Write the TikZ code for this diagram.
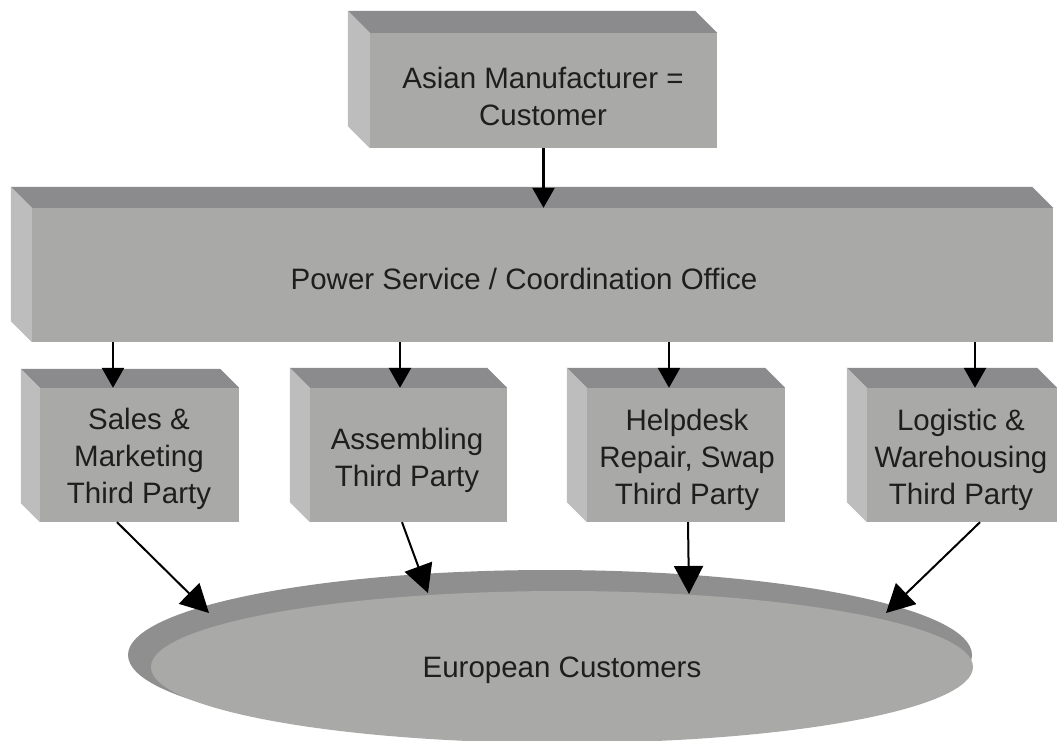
\documentclass[tikz,border=0pt]{standalone}
\usepackage{fontspec}
\setmainfont{Liberation Sans}
\usetikzlibrary{shapes.geometric,arrows.meta}
\definecolor{frontc}{HTML}{A9AAA8}
\definecolor{topc}{HTML}{8B8A8C}
\definecolor{leftc}{HTML}{BCBDBC}
\definecolor{rimc}{HTML}{8F8F8F}
\definecolor{txtc}{HTML}{1E1E1E}
\tikzset{
  face/.style={fill=frontc, draw=none, inner sep=0pt},
  lbl/.style={inner sep=0pt, align=center, text=txtc,
    font=\fontsize{29.5}{37}\selectfont},
  conn/.style={line width=2.6pt, -{Triangle[length=20pt,width=22pt]}},
  conn2/.style={line width=2pt, -{Triangle[length=28pt,width=29pt]}},
}
\begin{document}
\begin{tikzpicture}[x=1pt,y=-1pt]
\useasboundingbox (0,0) rectangle (1058,740);
% front faces
\node[face, minimum width=347pt, minimum height=115pt] (asian) at (543.5,90.5) {};
\node[face, minimum width=1021pt, minimum height=134pt] (office) at (542.5,275) {};
\node[face, minimum width=199pt, minimum height=134pt] (sales) at (139.5,455) {};
\node[face, minimum width=197pt, minimum height=134pt] (assem) at (408.5,455) {};
\node[face, minimum width=198pt, minimum height=134pt] (help) at (686,455) {};
\node[face, minimum width=190pt, minimum height=134pt] (logi) at (962,455) {};
% labels
\node[lbl] (asiantxt) at (543,96) {Asian Manufacturer =\\Customer};
\node[lbl] (officetxt) at (524,279) {Power Service / Coordination Office};
\node[lbl] (salestxt) at (139,459) {Sales \&\\Marketing\\Third Party};
\node[lbl] (assemtxt) at (407,460) {Assembling\\Third Party};
\node[lbl] (helptxt) at (687,460) {Helpdesk\\Repair, Swap\\Third Party};
\node[lbl] (logitxt) at (961,460) {Logistic \&\\Warehousing\\Third Party};
% 3D side faces
\foreach \n/\d in {asian/22, office/21, sales/19, assem/20, help/20, logi/20}{
  \fill[topc] (\n.north west) -- ++(-\d,-\d) -- ([shift={(-\d,-\d)}]\n.north east) -- (\n.north east) -- cycle;
  \fill[leftc] (\n.north west) -- ++(-\d,-\d) -- ([shift={(-\d,-\d)}]\n.south west) -- (\n.south west) -- cycle;
}
% ellipse
\node[ellipse, fill=rimc, minimum width=844pt, minimum height=170pt, inner sep=0pt] (rim) at (550,655) {};
\node[ellipse, fill=frontc, minimum width=822pt, minimum height=152pt, inner sep=0pt] (eu) at (562,667) {};
\node[lbl] (eutxt) at (562,670) {European Customers};
% arrows
\draw[conn] (asian.south) -- (office.north -| asian.south);
\draw[conn] ([xshift=-26.5pt]sales.north |- office.south) -- ([xshift=-26.5pt]sales.north);
\draw[conn] ([xshift=-8.5pt]assem.north |- office.south) -- ([xshift=-8.5pt]assem.north);
\draw[conn] ([xshift=-17pt]help.north |- office.south) -- ([xshift=-17pt]help.north);
\draw[conn] ([xshift=13pt]logi.north |- office.south) -- ([xshift=13pt]logi.north);
\coordinate (e1) at (209,613);
\coordinate (e2) at (428,593);
\coordinate (e3) at (689,594);
\coordinate (e4) at (886,613);
\draw[conn2] ([xshift=-22.5pt]sales.south) -- (e1);
\draw[conn2] ([xshift=-6.5pt]assem.south) -- (e2);
\draw[conn2] ([xshift=2pt]help.south) -- (e3);
\draw[conn2] ([xshift=18pt]logi.south) -- (e4);
\end{tikzpicture}
\end{document}
